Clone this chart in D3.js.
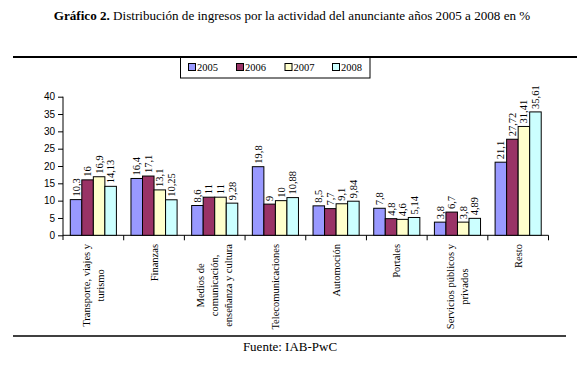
<!DOCTYPE html>
<html><head><meta charset="utf-8">
<script src="https://cdn.jsdelivr.net/npm/d3@7"></script>
<style>body{margin:0;background:#fff}svg{display:block}</style>
</head><body>
<svg id="c" width="580" height="368"></svg>
<script>
const categories = [
  ["Transporte, viajes y", "turismo"],
  ["Finanzas"],
  ["Medios de", "comunicación,", "enseñanza y cultura"],
  ["Telecomunicaciones"],
  ["Automoción"],
  ["Portales"],
  ["Servicios públicos y", "privados"],
  ["Resto"]
];
const seriesNames = ["2005", "2006", "2007", "2008"];
const v2005 = [10.3, 16.4, 8.6, 19.8, 8.5, 7.8, 3.8, 21.1];
const v2006 = [16, 17.1, 11, 9, 7.7, 4.8, 6.7, 27.72];
const v2007 = [16.9, 13.1, 11, 10, 9.1, 4.6, 3.8, 31.41];
const v2008 = [14.13, 10.25, 9.28, 10.88, 9.84, 5.14, 4.89, 35.61];
const yTicks = [0, 5, 10, 15, 20, 25, 30, 35, 40];
const colors = ["#9999FF", "#993366", "#FFFFCC", "#CCFFFF"];

const series = [v2005, v2006, v2007, v2008];
const svg = d3.select("#c");
const serif = "Liberation Serif, DejaVu Serif, serif";
const sans = "Liberation Sans, DejaVu Sans, sans-serif";
svg.style("font-family", serif);

// title
const t = svg.append("text").attr("x", 292).attr("y", 20).attr("text-anchor", "middle")
  .style("font-family", serif).attr("font-size", 13.1).attr("fill", "#000");
t.append("tspan").attr("font-weight", "bold").text("Gráfico 2.");
t.append("tspan").text(" Distribución de ingresos por la actividad del anunciante años 2005 a 2008 en %");

// rules
svg.append("line").attr("x1", 13).attr("x2", 577).attr("y1", 57).attr("y2", 57).attr("stroke", "#000").attr("stroke-width", 2);
svg.append("line").attr("x1", 13).attr("x2", 566).attr("y1", 336).attr("y2", 336).attr("stroke", "#000").attr("stroke-width", 1.5);

svg.append("text").attr("x", 290).attr("y", 351).attr("text-anchor", "middle")
  .style("font-family", serif).attr("font-size", 13).text("Fuente: IAB-PwC");

// scales
const x0 = d3.scaleBand().domain(d3.range(categories.length)).range([63, 548.5]).paddingInner(0.24).paddingOuter(0.12);
const x1 = d3.scaleBand().domain(d3.range(seriesNames.length)).range([0, x0.bandwidth()]);
const y = d3.scaleLinear().domain([0, 40]).range([235.3, 96.7]);

// y axis
const yAxis = d3.axisLeft(y).tickValues(yTicks).tickSize(5).tickPadding(3).tickFormat(d3.format("d"));
const ga = svg.append("g").attr("transform", "translate(63,0)").call(yAxis);
ga.attr("font-family", null);
ga.select(".domain").attr("stroke", "#000").attr("d", "M0,96.7V240");
ga.selectAll("text").style("font-family", sans).attr("font-size", 10).attr("fill", "#000");
ga.selectAll("line").attr("stroke", "#000");

// x axis baseline and ticks
svg.append("line").attr("x1", 63).attr("x2", 548.5).attr("y1", y(0)).attr("y2", y(0)).attr("stroke", "#000");
const boundaries = d3.range(1, categories.length + 1).map(i => 63 + (548.5 - 63) * i / categories.length);
svg.selectAll(".xt").data(boundaries).join("line").attr("x1", d => d).attr("x2", d => d)
  .attr("y1", y(0)).attr("y2", y(0) + 5).attr("stroke", "#000");

// bars
const fmt = v => String(v).replace(".", ",");
categories.forEach((c, i) => {
  const g = svg.append("g").attr("transform", `translate(${x0(i)},0)`);
  series.forEach((s, j) => {
    g.append("rect").attr("x", x1(j)).attr("width", x1.bandwidth()).attr("y", y(s[i]))
      .attr("height", y(0) - y(s[i])).attr("fill", colors[j]).attr("stroke", "#000").attr("stroke-width", 1);
    const cx = x1(j) + x1.bandwidth() / 2;
    g.append("text").attr("transform", `translate(${cx + 3.5},${y(s[i]) - 3}) rotate(-90)`)
      .style("font-family", serif).attr("font-size", 10.5).attr("fill", "#000").text(fmt(s[i]));
  });
});

// category labels
categories.forEach((lines, i) => {
  const cx = (x0(i) + x0.bandwidth() / 2);
  const lh = 14;
  const tmp = lines.map(ln => svg.append("text").style("font-family", serif).attr("font-size", 10.5).text(ln));
  const maxW = d3.max(tmp, n => n.node().getComputedTextLength());
  tmp.forEach(n => n.remove());
  lines.forEach((ln, k) => {
    const off = (k - (lines.length - 1) / 2) * lh;
    svg.append("text").attr("transform", `translate(${cx + off + 3.5},${244 + maxW / 2}) rotate(-90)`)
      .attr("text-anchor", "middle")
      .style("font-family", serif).attr("font-size", 10.5).attr("fill", "#000").text(ln);
  });
});

// legend
const lg = svg.append("g");
lg.append("rect").attr("x", 180.5).attr("y", 57.5).attr("width", 189.5).attr("height", 20.5).attr("fill", "#fff").attr("stroke", "#000");
const lx = [188.5, 236.5, 285, 332.5];
seriesNames.forEach((n, j) => {
  lg.append("rect").attr("x", lx[j]).attr("y", 63.5).attr("width", 7).attr("height", 7).attr("fill", colors[j]).attr("stroke", "#000");
  lg.append("text").attr("x", lx[j] + 8.5).attr("y", 71).style("font-family", serif).attr("font-size", 10.5).text(n);
});
</script>
</body></html>
